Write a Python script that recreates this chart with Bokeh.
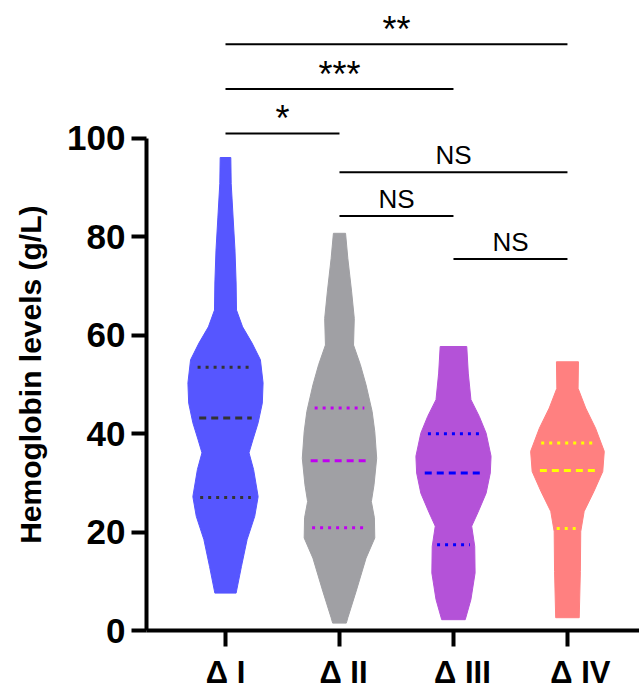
import numpy as np
from bokeh.plotting import figure
from bokeh.models import FixedTicker, LinearAxis, Range1d
from bokeh.layouts import row
from bokeh.embed import file_html
from bokeh.resources import INLINE
from bokeh.core.properties import value

# ---------------- data ----------------
categories = ["\u0394 I", "\u0394 II", "\u0394 III", "\u0394 IV"]
y_ticks = [0, 20, 40, 60, 80, 100]
y_title = "Hemoglobin levels (g/L)"

# violin outlines: hemoglobin level (g/L) and relative density
g1_y = [7.6, 13.0, 18.5, 23.2, 27.2, 32.7, 36.1, 38.7, 42.2, 46.2, 50.3, 55.0, 58.4, 61.7, 65.1, 70.6, 77.3, 84.0, 90.8, 96.1]
g1_d = [0.28, 0.42, 0.57, 0.77, 0.86, 0.74, 0.62, 0.72, 0.86, 0.97, 0.99, 0.92, 0.70, 0.45, 0.29, 0.28, 0.25, 0.20, 0.15, 0.14]

g2_y = [1.5, 2.6, 8.0, 14.7, 18.8, 22.9, 26.2, 29.6, 35.0, 40.4, 44.5, 49.9, 54.0, 58.0, 63.4, 68.8, 75.6, 80.7]
g2_d = [0.18, 0.22, 0.44, 0.70, 0.93, 0.92, 0.84, 0.91, 0.98, 0.93, 0.86, 0.70, 0.55, 0.37, 0.39, 0.32, 0.22, 0.16]

g3_y = [2.2, 6.3, 11.7, 17.1, 21.2, 23.9, 27.9, 32.0, 35.4, 40.1, 43.5, 46.9, 52.3, 57.7]
g3_d = [0.31, 0.46, 0.57, 0.56, 0.48, 0.64, 0.86, 0.97, 0.99, 0.86, 0.68, 0.46, 0.39, 0.35]

g4_y = [2.6, 12.0, 20.1, 24.2, 28.3, 32.3, 36.4, 41.1, 45.2, 49.2, 54.6]
g4_d = [0.31, 0.34, 0.35, 0.44, 0.70, 0.93, 0.97, 0.74, 0.48, 0.28, 0.29]

q1_vals = [27.0, 20.9, 17.4, 20.7]
median_vals = [43.2, 34.5, 32.0, 32.5]
q3_vals = [53.5, 45.2, 40.0, 38.1]

# significance comparisons
cmp_from = [1, 1, 1, 2, 2, 3]
cmp_to = [4, 3, 2, 4, 3, 4]
cmp_level = [119.1, 110.0, 101.0, 93.1, 84.2, 75.5]
cmp_label = ["**", "***", "*", "NS", "NS", "NS"]

# ---------------- styling ----------------
fill_colors = ["#5656FF", "#A0A0A4", "#B452D8", "#FF8080"]
line_colors = ["#333333", "#C000F0", "#0000FF", "#FFFF00"]
FONT = "Liberation Sans"
HALF_W = 0.333
PX_PER_CAT = 114.0
label_shift_px = [0, 4, 9, 13]   # category labels sit slightly right of their ticks
TOTAL_H = 692
LABEL_W = 50

# ---- narrow strip holding the y-axis title ----
lf = figure(width=LABEL_W, height=TOTAL_H, x_range=Range1d(0, LABEL_W), y_range=Range1d(TOTAL_H, 0),
            output_backend="svg", toolbar_location=None, x_axis_type=None, y_axis_type=None,
            min_border=0)
lf.outline_line_color = None
lf.xgrid.visible = False
lf.ygrid.visible = False
lf.text(x=[30], y=[411], text=[y_title], angle=np.pi / 2, text_align="center",
        text_baseline="middle", text_font=value(FONT), text_font_style="bold",
        text_font_size=value("30px"), text_color="black")

# ---- main chart ----
p = figure(width=639 - LABEL_W, height=TOTAL_H, x_range=(0.307, 4.632), y_range=(0, 128.0),
           output_backend="svg", toolbar_location=None,
           min_border_left=146 - LABEL_W, min_border_right=0, min_border_top=0, min_border_bottom=61)
p.outline_line_color = None
p.xgrid.visible = False
p.ygrid.visible = False
p.background_fill_color = "white"
p.border_fill_color = "white"

groups = [(g1_y, g1_d), (g2_y, g2_d), (g3_y, g3_d), (g4_y, g4_d)]
for i, (ys, ds) in enumerate(groups):
    c = i + 1
    ys = np.array(ys, dtype=float)
    ds = np.array(ds, dtype=float)
    xs_r = c + ds * HALF_W
    xs_l = c - ds * HALF_W
    px = np.concatenate([xs_r, xs_l[::-1]])
    py = np.concatenate([ys, ys[::-1]])
    p.patch(px, py, fill_color=fill_colors[i], line_color=fill_colors[i], line_width=1)
    for qv, dash in [(q3_vals[i], "3 5"), (median_vals[i], "7 5"), (q1_vals[i], "3 5")]:
        hw = np.interp(qv, ys, ds) * HALF_W * 0.78
        p.line([c - hw, c + hw], [qv, qv], line_color=line_colors[i], line_width=3, line_dash=dash)

# significance brackets
mid = [(a + b) / 2 for a, b in zip(cmp_from, cmp_to)]
p.segment(x0=cmp_from, x1=cmp_to, y0=cmp_level, y1=cmp_level, line_color="black", line_width=2)
star_idx = [k for k, t in enumerate(cmp_label) if t != "NS"]
ns_idx = [k for k, t in enumerate(cmp_label) if t == "NS"]
p.text(x=[mid[k] for k in star_idx], y=[cmp_level[k] for k in star_idx],
       text=[cmp_label[k] for k in star_idx], text_align="center", text_baseline="alphabetic",
       y_offset=-15, text_font=value(FONT), text_font_size=value("36px"), text_color="black")
p.text(x=[mid[k] for k in ns_idx], y=[cmp_level[k] for k in ns_idx],
       text=[cmp_label[k] for k in ns_idx], text_align="center", text_baseline="alphabetic",
       y_offset=-17, text_font=value(FONT), text_font_size=value("26px"), text_color="black")

# x axis: tick marks at the category centres
xa = p.xaxis[0]
xa.ticker = FixedTicker(ticks=[1, 2, 3, 4])
xa.major_label_overrides = {i + 1: "" for i in range(4)}
xa.major_label_text_font_size = "0px"
xa.major_label_standoff = 0
xa.minor_tick_line_color = None
xa.major_tick_in = 0
xa.major_tick_out = 16
xa.major_tick_line_width = 4
xa.axis_line_width = 4

# x axis labels
label_pos = [i + 1 + label_shift_px[i] / PX_PER_CAT for i in range(4)]
xl = LinearAxis(ticker=FixedTicker(ticks=label_pos),
                major_label_overrides={label_pos[i]: categories[i] for i in range(4)})
xl.axis_line_color = None
xl.major_tick_line_color = None
xl.minor_tick_line_color = None
xl.major_tick_in = 0
xl.major_tick_out = 0
xl.major_label_standoff = 8
xl.major_label_text_font = FONT
xl.major_label_text_font_style = "bold"
xl.major_label_text_font_size = "31px"
xl.major_label_text_color = "black"
p.add_layout(xl, "below")

ya = p.yaxis[0]
ya.ticker = FixedTicker(ticks=y_ticks)
ya.bounds = (0, 100)
ya.minor_tick_line_color = None
ya.major_tick_in = 0
ya.major_tick_out = 15
ya.major_tick_line_width = 4
ya.axis_line_width = 4
ya.major_label_standoff = 6
ya.major_label_text_font = FONT
ya.major_label_text_font_style = "bold"
ya.major_label_text_font_size = "35px"
ya.major_label_text_color = "black"

layout = row(lf, p)
open("out.html", "w").write(file_html(layout, INLINE))
